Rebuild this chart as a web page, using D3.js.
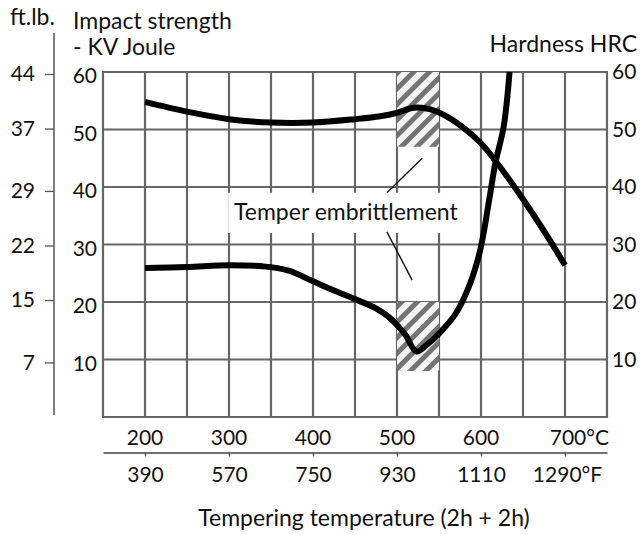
<!DOCTYPE html>
<html>
<head>
<meta charset="utf-8">
<script src="https://cdn.jsdelivr.net/npm/d3@7"></script>
<style>
  html, body { margin: 0; padding: 0; background: #fff; }
  svg text { font-family: Lato, "Open Sans", sans-serif; fill: #111; }
</style>
</head>
<body>
<div id="chart"></div>
<script>
// Hardness (HRC) vs tempering temperature (°C)
const hardTemp = [200, 250, 300, 350, 400, 450, 480, 500, 520, 540, 560, 580, 600, 620, 640, 660, 680, 700];
const hardVal  = [54.8, 53.1, 51.8, 51.2, 51.2, 51.8, 52.3, 52.9, 53.8, 53.5, 52.2, 50.2, 47.6, 44.0, 40.0, 35.7, 31.2, 26.4];

// Impact strength (KV Joule) vs tempering temperature (°C)
const impactTemp = [200, 250, 300, 340, 370, 400, 425, 450, 475, 490, 500, 510, 523, 535, 550, 570, 587, 599, 610, 617, 627, 634];
const impactVal  = [25.9, 26.1, 26.4, 26.2, 25.5, 23.6, 22.0, 20.5, 18.9, 17.4, 16.0, 14.3, 11.4, 12.5, 14.5, 18.0, 23.2, 29.0, 38.0, 44.1, 50.5, 60.0];

// tick labels
const celsiusTicks = [200, 300, 400, 500, 600, 700];
const fahrenheitLabels = ['390', '570', '750', '930', '1110', '1290°F'];
const jouleTicks = [10, 20, 30, 40, 50, 60];
const hrcTicks = [10, 20, 30, 40, 50, 60];
const ftlbTicks = [7, 15, 22, 29, 37, 44];

// temper embrittlement zones [tempFrom, tempTo, valLow, valHigh]
const embrittleZones = [[500, 550, 47, 60], [500, 550, 8, 20]];
// leader lines [t1, v1, t2, v2]
const leaders = [[488, 39, 530, 45], [488, 32.2, 518, 23.8]];

const width = 642, height = 535;
const svg = d3.select('#chart').append('svg')
    .attr('width', width)
    .attr('height', height);

const x = d3.scaleLinear().domain([150, 750]).range([103, 607]);
const y = d3.scaleLinear().domain([0, 60]).range([417, 72]);
const yFt = d3.scaleLinear().domain([0, 60 / 1.3558]).range([417, 72]);

const gridColor = '#666';
const numSize = 21, wordSize = 23;

// hatch pattern
const defs = svg.append('defs');
const pat = defs.append('pattern')
    .attr('id', 'hatch')
    .attr('patternUnits', 'userSpaceOnUse')
    .attr('width', 11).attr('height', 11)
    .attr('patternTransform', 'rotate(45)');
pat.append('rect').attr('width', 11).attr('height', 11).attr('fill', '#f4f4f4');
pat.append('rect').attr('width', 5).attr('height', 11).attr('fill', '#747474');

// grid
const grid = svg.append('g');
grid.selectAll('line.v')
  .data(d3.range(150, 751, 50))
  .join('line')
    .attr('x1', d => x(d)).attr('x2', d => x(d))
    .attr('y1', y(60)).attr('y2', y(0))
    .attr('stroke', gridColor).attr('stroke-width', 2.2);
grid.selectAll('line.h')
  .data(d3.range(0, 61, 10))
  .join('line')
    .attr('x1', x(150) - 1).attr('x2', x(750) + 1)
    .attr('y1', d => y(d)).attr('y2', d => y(d))
    .attr('stroke', gridColor).attr('stroke-width', 2.2);

// hatched zones
svg.selectAll('rect.zone')
  .data(embrittleZones)
  .join('rect')
    .attr('x', d => x(d[0]))
    .attr('y', d => y(d[3]))
    .attr('width', d => x(d[1]) - x(d[0]))
    .attr('height', d => y(d[2]) - y(d[3]))
    .attr('fill', 'url(#hatch)');

// annotation background + text
svg.append('rect')
    .attr('x', x(299)).attr('y', y(39))
    .attr('width', x(585) - x(299)).attr('height', y(32) - y(39))
    .attr('fill', '#fff');
svg.append('text')
    .attr('x', x(306)).attr('y', y(34.2))
    .attr('font-size', wordSize)
    .text('Temper embrittlement');
svg.selectAll('line.leader')
  .data(leaders)
  .join('line')
    .attr('x1', d => x(d[0])).attr('y1', d => y(d[1]))
    .attr('x2', d => x(d[2])).attr('y2', d => y(d[3]))
    .attr('stroke', '#111').attr('stroke-width', 1.4);

// curves
const line = d3.line()
    .x(d => x(d[0]))
    .y(d => y(d[1]))
    .curve(d3.curveCatmullRom.alpha(0.5));

svg.append('path')
    .datum(d3.zip(hardTemp, hardVal))
    .attr('d', line)
    .attr('fill', 'none').attr('stroke', '#000').attr('stroke-width', 6);
svg.append('path')
    .datum(d3.zip(impactTemp, impactVal))
    .attr('d', line)
    .attr('fill', 'none').attr('stroke', '#000').attr('stroke-width', 6);

// left J axis
const leftAxis = svg.append('g')
    .attr('transform', `translate(${x(150)},4)`)
    .call(d3.axisLeft(y).tickValues(jouleTicks).tickSize(0).tickPadding(6));
leftAxis.select('.domain').remove();
leftAxis.selectAll('text').attr('font-size', numSize).attr('font-family', 'Lato');

// right HRC axis
const rightAxis = svg.append('g')
    .attr('transform', `translate(${x(750)},0)`)
    .call(d3.axisRight(y).tickValues(hrcTicks).tickSize(0).tickPadding(5));
rightAxis.select('.domain').remove();
rightAxis.selectAll('text').attr('font-size', numSize).attr('font-family', 'Lato');

// ft.lb axis
svg.append('line')
    .attr('x1', 54).attr('x2', 54).attr('y1', 33).attr('y2', 415)
    .attr('stroke', '#555').attr('stroke-width', 1.5);
const ftAxis = svg.append('g')
    .attr('transform', 'translate(54,0)')
    .call(d3.axisLeft(yFt).tickValues(ftlbTicks).tickSize(9).tickSizeOuter(0).tickPadding(10));
ftAxis.select('.domain').remove();
ftAxis.selectAll('.tick line').attr('stroke', '#555').attr('stroke-width', 1.3);
ftAxis.selectAll('text').attr('font-size', numSize).attr('font-family', 'Lato');

// Celsius labels
svg.selectAll('text.c')
  .data(celsiusTicks)
  .join('text')
    .attr('x', (d, i) => i === celsiusTicks.length - 1 ? x(750) + 2 : x(d))
    .attr('y', 445)
    .attr('text-anchor', (d, i) => i === celsiusTicks.length - 1 ? 'end' : 'middle')
    .attr('font-size', numSize)
    .text((d, i) => i === celsiusTicks.length - 1 ? d + '°C' : d);

// Fahrenheit axis
const fAxis = svg.append('g')
    .attr('transform', 'translate(0,452.5)')
    .call(d3.axisBottom(x).tickValues(celsiusTicks)
      .tickFormat((d, i) => fahrenheitLabels[i])
      .tickSize(4).tickSizeOuter(0).tickPadding(11));
fAxis.select('.domain').attr('stroke', '#444').attr('stroke-width', 1.5);
fAxis.selectAll('.tick line').attr('stroke', '#444').attr('stroke-width', 1.3);
fAxis.selectAll('text').attr('font-size', numSize).attr('font-family', 'Lato');
fAxis.selectAll('.tick').filter((d, i) => i === celsiusTicks.length - 1)
    .select('text').attr('dx', 2);

// titles
svg.append('text').attr('x', 10).attr('y', 25).attr('font-size', wordSize).text('ft.lb.');
svg.append('text').attr('x', 73).attr('y', 29).attr('font-size', wordSize).text('Impact strength');
svg.append('text').attr('x', 73).attr('y', 55).attr('font-size', wordSize).text('- KV Joule');
svg.append('text').attr('x', 637).attr('y', 52).attr('text-anchor', 'end')
    .attr('font-size', wordSize).text('Hardness HRC');
svg.append('text').attr('x', 364).attr('y', 526).attr('text-anchor', 'middle')
    .attr('font-size', wordSize).text('Tempering temperature (2h + 2h)');
</script>
</body>
</html>
